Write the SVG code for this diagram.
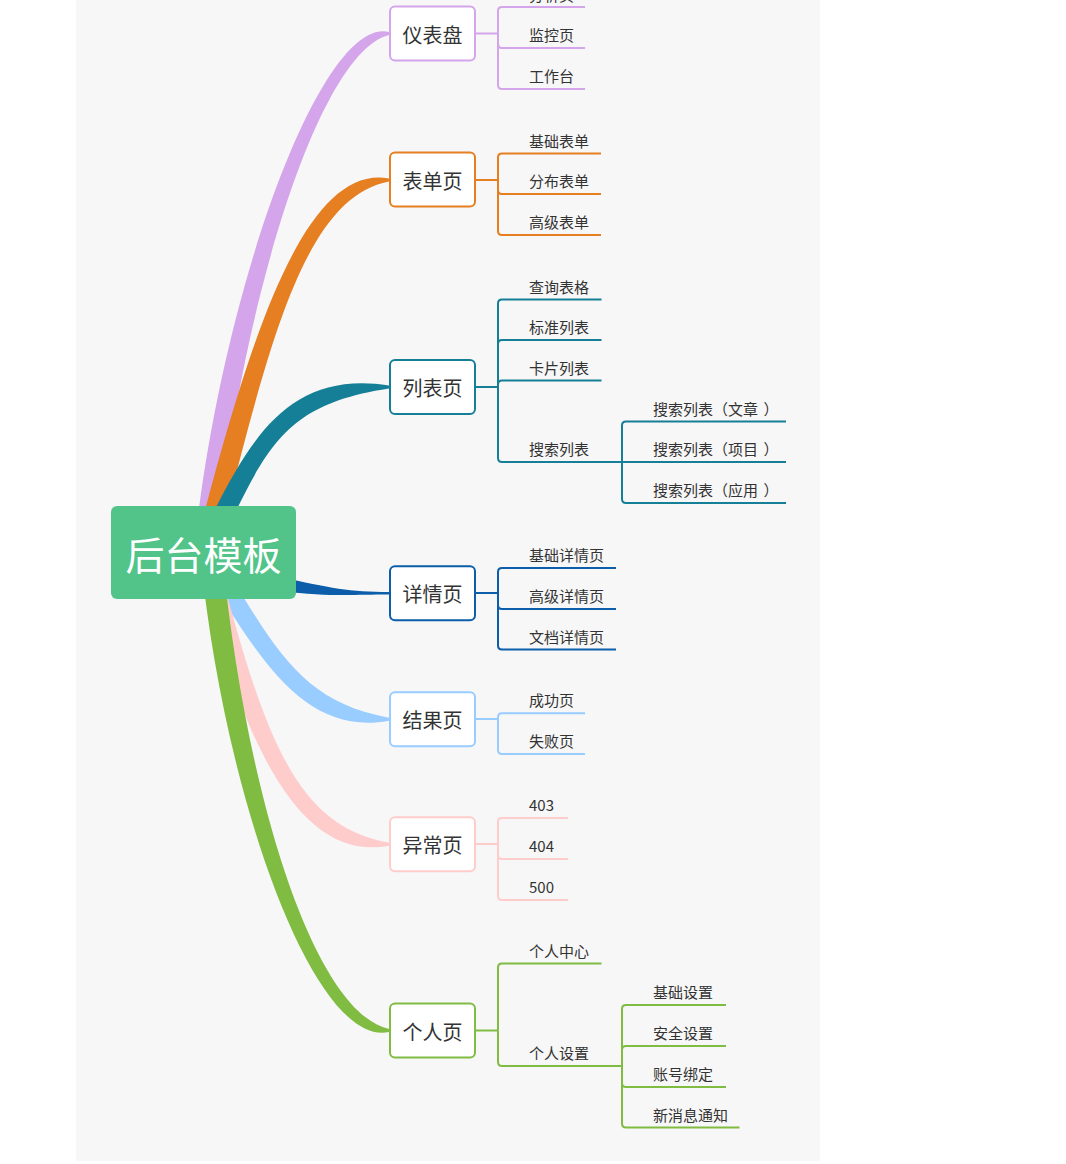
<svg xmlns="http://www.w3.org/2000/svg" width="1066" height="1164" viewBox="0 0 1066 1164">
<style>
text{font-family:"Noto Sans CJK SC","Noto Sans",sans-serif;fill:#333}
.leaf{font-size:15px}
.topic rect{fill:#fff;stroke-width:2}
.topic text{font-size:20px;text-anchor:middle}
.ln{fill:none;stroke-width:2;stroke-linecap:butt}
.c1{stroke:#D4A5EB}.f1{fill:#D4A5EB}
.c2{stroke:#E67E22}.f2{fill:#E67E22}
.c3{stroke:#147F96}.f3{fill:#147F96}
.c4{stroke:#0C5DAA}.f4{fill:#0C5DAA}
.c5{stroke:#99CCFF}.f5{fill:#99CCFF}
.c6{stroke:#FFCCCC}.f6{fill:#FFCCCC}
.c7{stroke:#80BC42}.f7{fill:#80BC42}
</style>
<rect x="76" y="0" width="744" height="1161" fill="#F7F7F7"/>
<g id="connectors">
  <path class="f1" d="M194,552 C219,300 320,15.5 389,32 L389,35 C320,51.5 241,300 216,552 Z"/>
  <path class="f2" d="M194,552 C244,360 300,162 389,178.5 L389,181.5 C300,198 266,360 216,552 Z"/>
  <path class="f3" d="M194,552 C244,450 280,369 389,385.5 L389,388.5 C280,405 266,450 216,552 Z"/>
  <path class="f4" d="M280,577 C330,588 350,592 389,592 L389,594.6 C350,594.6 330,597 280,591 Z"/>
  <path class="f5" d="M194,552 C254,650 300,737.2 389,720.7 L389,717.7 C300,701.2 276,650 216,552 Z"/>
  <path class="f6" d="M194,552 C244,750 300,862.2 389,845.7 L389,842.7 C300,826.2 266,750 216,552 Z"/>
  <path class="f7" d="M200,552 C224,800 315,1048.5 389,1032 L389,1029 C315,1012.5 246,800 222,552 Z"/>

  <g class="ln c1">
    <path d="M476,33.5 H498"/>
    <path d="M498,33.5 V11 Q498,7 502,7 H585"/>
    <path d="M498,33.5 V44 Q498,48 502,48 H585"/>
    <path d="M498,33.5 V85 Q498,89 502,89 H585"/>
  </g>
  <g class="ln c2">
    <path d="M476,180 H498"/>
    <path d="M498,180 V157.5 Q498,153.5 502,153.5 H601"/>
    <path d="M498,180 V190 Q498,194 502,194 H601"/>
    <path d="M498,180 V231 Q498,235 502,235 H601"/>
  </g>
  <g class="ln c3">
    <path d="M476,387 H498"/>
    <path d="M498,387 V303.5 Q498,299.5 502,299.5 H601.5"/>
    <path d="M498,387 V344 Q498,340 502,340 H601.5"/>
    <path d="M498,387 V384.5 Q498,380.5 502,380.5 H601.5"/>
    <path d="M498,387 V458 Q498,462 502,462 H622"/>
    <path d="M622,462 V425.5 Q622,421.5 626,421.5 H786"/>
    <path d="M622,462 H786"/>
    <path d="M622,462 V499 Q622,503 626,503 H786"/>
  </g>
  <g class="ln c4">
    <path d="M476,593 H498"/>
    <path d="M498,593 V572 Q498,568 502,568 H616"/>
    <path d="M498,593 V605 Q498,609 502,609 H616"/>
    <path d="M498,593 V645.5 Q498,649.5 502,649.5 H616"/>
  </g>
  <g class="ln c5">
    <path d="M476,719 H498"/>
    <path d="M498,719 V717.3 Q498,713.3 502,713.3 H585"/>
    <path d="M498,719 V750 Q498,754 502,754 H585"/>
  </g>
  <g class="ln c6">
    <path d="M476,844 H498"/>
    <path d="M498,844 V822 Q498,818 502,818 H568"/>
    <path d="M498,844 V855 Q498,859 502,859 H568"/>
    <path d="M498,844 V896 Q498,900 502,900 H568"/>
  </g>
  <g class="ln c7">
    <path d="M476,1030.5 H498"/>
    <path d="M498,1030.5 V967.5 Q498,963.5 502,963.5 H601.5"/>
    <path d="M498,1030.5 V1062 Q498,1066 502,1066 H622"/>
    <path d="M622,1066 V1009 Q622,1005 626,1005 H726"/>
    <path d="M622,1066 V1050 Q622,1046 626,1046 H726"/>
    <path d="M622,1066 V1083 Q622,1087 626,1087 H726"/>
    <path d="M622,1066 V1123.5 Q622,1127.5 626,1127.5 H739.5"/>
  </g>
</g>

<g id="root">
  <rect x="111" y="506" width="185" height="93" rx="6" fill="#52C48A"/>
  <text x="203.5" y="570" font-size="39" text-anchor="middle" style="fill:#fff">后台模板</text>
</g>

<g id="dashboard" class="topic"><rect class="c1" x="390" y="6.5" width="85" height="54" rx="5"/><text x="432.5" y="42.5">仪表盘</text></g>
<g id="form" class="topic"><rect class="c2" x="390" y="152.5" width="85" height="54" rx="5"/><text x="432.5" y="188.5">表单页</text></g>
<g id="list" class="topic"><rect class="c3" x="390" y="360" width="85" height="54" rx="5"/><text x="432.5" y="395.5">列表页</text></g>
<g id="detail" class="topic"><rect class="c4" x="390" y="566.3" width="85" height="54" rx="5"/><text x="432.5" y="602">详情页</text></g>
<g id="result" class="topic"><rect class="c5" x="390" y="692.2" width="85" height="54" rx="5"/><text x="432.5" y="728">结果页</text></g>
<g id="exception" class="topic"><rect class="c6" x="390" y="817.2" width="85" height="54" rx="5"/><text x="432.5" y="853">异常页</text></g>
<g id="account" class="topic"><rect class="c7" x="390" y="1003.5" width="85" height="54" rx="5"/><text x="432.5" y="1039.5">个人页</text></g>

<g id="leaf-analysis"><text class="leaf" x="529" y="0.5">分析页</text></g>
<g id="leaf-monitor"><text class="leaf" x="529" y="41">监控页</text></g>
<g id="leaf-workplace"><text class="leaf" x="529" y="82">工作台</text></g>
<g id="leaf-basic-form"><text class="leaf" x="529" y="146.5">基础表单</text></g>
<g id="leaf-step-form"><text class="leaf" x="529" y="187">分布表单</text></g>
<g id="leaf-advanced-form"><text class="leaf" x="529" y="228">高级表单</text></g>
<g id="leaf-table-list"><text class="leaf" x="529" y="292.5">查询表格</text></g>
<g id="leaf-basic-list"><text class="leaf" x="529" y="333">标准列表</text></g>
<g id="leaf-card-list"><text class="leaf" x="529" y="373.5">卡片列表</text></g>
<g id="leaf-search-list"><text class="leaf" x="529" y="455">搜索列表</text></g>
<g id="leaf-search-articles"><text class="leaf" x="653" y="414.5">搜索列表（文章<tspan dx="5.5">）</tspan></text></g>
<g id="leaf-search-projects"><text class="leaf" x="653" y="455">搜索列表（项目<tspan dx="5.5">）</tspan></text></g>
<g id="leaf-search-apps"><text class="leaf" x="653" y="496">搜索列表（应用<tspan dx="5.5">）</tspan></text></g>
<g id="leaf-basic-profile"><text class="leaf" x="529" y="561">基础详情页</text></g>
<g id="leaf-advanced-profile"><text class="leaf" x="529" y="602">高级详情页</text></g>
<g id="leaf-doc-profile"><text class="leaf" x="529" y="642.5">文档详情页</text></g>
<g id="leaf-success"><text class="leaf" x="529" y="706.3">成功页</text></g>
<g id="leaf-fail"><text class="leaf" x="529" y="747">失败页</text></g>
<g id="leaf-403"><text class="leaf" x="529" y="811.3">403</text></g>
<g id="leaf-404"><text class="leaf" x="529" y="852.3">404</text></g>
<g id="leaf-500"><text class="leaf" x="529" y="893">500</text></g>
<g id="leaf-center"><text class="leaf" x="529" y="956.5">个人中心</text></g>
<g id="leaf-settings"><text class="leaf" x="529" y="1059">个人设置</text></g>
<g id="leaf-base-settings"><text class="leaf" x="653" y="998">基础设置</text></g>
<g id="leaf-security"><text class="leaf" x="653" y="1039">安全设置</text></g>
<g id="leaf-binding"><text class="leaf" x="653" y="1080">账号绑定</text></g>
<g id="leaf-notification"><text class="leaf" x="653" y="1120.5">新消息通知</text></g>
</svg>
